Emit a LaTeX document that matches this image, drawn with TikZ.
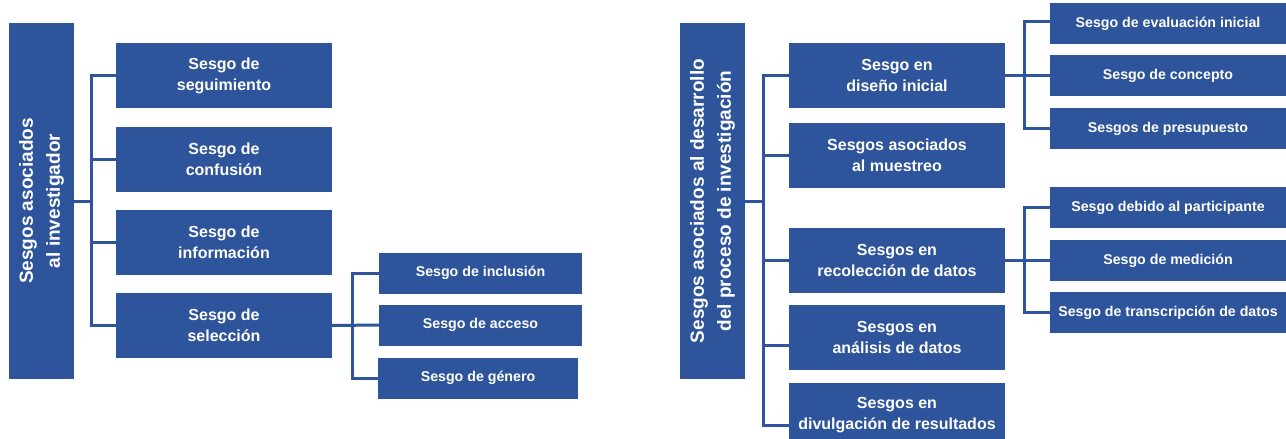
\documentclass[tikz,border=0pt]{standalone}
\usepackage{fontspec}
\setmainfont{Liberation Sans}
\usetikzlibrary{calc}
\definecolor{sesgoazul}{RGB}{46,84,155}

\begin{document}
\begin{tikzpicture}[x=1pt, y=-1pt,
		raiz/.style={fill=sesgoazul, text=white, rotate=90, align=center, inner sep=0pt,
			minimum width=356pt, minimum height=65pt, font=\bfseries\fontsize{19}{27}\selectfont},
		tipo/.style={fill=sesgoazul, text=white, align=center, inner sep=0pt,
			minimum width=216pt, minimum height=65pt, font=\bfseries\fontsize{16}{21}\selectfont},
		subtipo/.style={fill=sesgoazul, text=white, align=center, inner sep=0pt,
			minimum height=41pt, font=\bfseries\fontsize{14.2}{18}\selectfont},
		enlace/.style={draw=sesgoazul, line width=3pt}]
			%%%%% START %%%%%
			
			\useasboundingbox (0, 0) rectangle (1286, 439);
			
			% investigador (rotated: south anchor is the right side)
			\node[raiz] (inv) at (41.5, 201) {Sesgos asociados\\al investigador};
			
			\node[tipo] (seg) at (224, 75.5) {Sesgo de\\seguimiento};
			\node[tipo] (con) at (224, 159.5) {Sesgo de\\confusión};
			\node[tipo] (inf) at (224, 242.5) {Sesgo de\\información};
			\node[tipo] (sel) at (224, 325.5) {Sesgo de\\selección};
			
			\node[subtipo, minimum width=203pt] (incl) at (480.5, 273) {Sesgo de inclusión};
			\node[subtipo, minimum width=203pt] (acc) at (480.5, 325) {Sesgo de acceso};
			\node[subtipo, minimum width=200pt] (gen) at (478, 378) {Sesgo de género};
			
			\draw[enlace] (inv.south) -- ++(17, 0) |- (seg.west);
			\draw[enlace] (inv.south) -- ++(17, 0) |- (con.west);
			\draw[enlace] (inv.south) -- ++(17, 0) |- (inf.west);
			\draw[enlace] (inv.south) -- ++(17, 0) |- (sel.west);
			
			\draw[enlace] (sel.east) -- ++(20, 0) |- (incl.west);
			\draw[enlace] (sel.east) -- (acc.west);
			\draw[enlace] (sel.east) -- ++(20, 0) |- (gen.west);
			
			% desarrollo
			\node[raiz] (des) at (712.5, 201) {Sesgos asociados al desarrollo\\del proceso de investigación};
			
			\node[tipo] (dis) at (897, 75.5) {Sesgo en\\diseño inicial};
			\node[tipo] (mue) at (897, 155.5) {Sesgos asociados\\al muestreo};
			\node[tipo] (rec) at (897, 260.5) {Sesgos en\\recolección de datos};
			\node[tipo] (ana) at (897, 337.5) {Sesgos en\\análisis de datos};
			\node[tipo] (div) at (897, 415.5) {Sesgos en\\divulgación de resultados};
			
			\node[subtipo, minimum width=236pt] (eva) at (1168, 23.5) {Sesgo de evaluación inicial};
			\node[subtipo, minimum width=236pt] (cpt) at (1168, 75.5) {Sesgo de concepto};
			\node[subtipo, minimum width=236pt] (pre) at (1168, 128.5) {Sesgos de presupuesto};
			
			\node[subtipo, minimum width=236pt] (par) at (1168, 207.5) {Sesgo debido al participante};
			\node[subtipo, minimum width=236pt] (med) at (1168, 260.5) {Sesgo de medición};
			\node[subtipo, minimum width=236pt] (tra) at (1168, 312.5) {Sesgo de transcripción de datos};
			
			\draw[enlace] (des.south) -- ++(18, 0) |- (dis.west);
			\draw[enlace] (des.south) -- ++(18, 0) |- (mue.west);
			\draw[enlace] (des.south) -- ++(18, 0) |- (rec.west);
			\draw[enlace] (des.south) -- ++(18, 0) |- ([yshift=-8pt]ana.west);
			\draw[enlace] (des.south) -- ++(18, 0) |- ([yshift=-9.5pt]div.west);
			
			\draw[enlace] (dis.east) -- ++(19, 0) |- ([yshift=2.5pt]eva.west);
			\draw[enlace] (dis.east) -- (cpt.west);
			\draw[enlace] (dis.east) -- ++(19, 0) |- (pre.west);
			
			\draw[enlace] (rec.east) -- ++(19, 0) |- (par.west);
			\draw[enlace] (rec.east) -- (med.west);
			\draw[enlace] (rec.east) -- ++(19, 0) |- (tra.west);
			
			%%%%% END %%%%%
\end{tikzpicture}
\end{document}
